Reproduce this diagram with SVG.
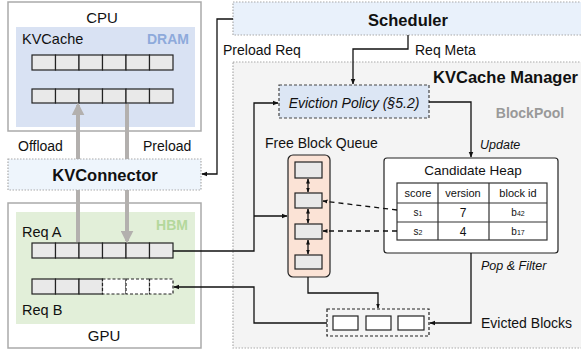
<svg xmlns="http://www.w3.org/2000/svg" width="581" height="353" viewBox="0 0 581 353">
<defs>
<marker id="ah" viewBox="0 0 10 10" refX="9" refY="5" markerWidth="6" markerHeight="6" markerUnits="userSpaceOnUse" orient="auto-start-reverse"><path d="M0,1 L10,5 L0,9 z" fill="#111"/></marker>
<marker id="ahs" viewBox="0 0 10 10" refX="9" refY="5" markerWidth="5" markerHeight="5" markerUnits="userSpaceOnUse" orient="auto-start-reverse"><path d="M0,1 L10,5 L0,9 z" fill="#111"/></marker>
<marker id="ag" viewBox="0 0 10 10" refX="8" refY="5" markerWidth="13" markerHeight="13" markerUnits="userSpaceOnUse" orient="auto"><path d="M0,0 L10,5 L0,10 z" fill="#b3b0ae"/></marker>
</defs>
<style>
text{font-family:"Liberation Sans",Arial,sans-serif;fill:#111}
.outer{fill:#fff;stroke:#aaa;stroke-width:1.5}
.blk{fill:#e9e9e9;stroke:#222;stroke-width:1.2}
.blkd{fill:#fff;stroke:#222;stroke-width:1.2;stroke-dasharray:3,2}
.wblk{fill:#fff;stroke:#222;stroke-width:1.2}
.dot{stroke:#aaa;stroke-width:1.2;stroke-dasharray:1.5,1.5}
.ln{fill:none;stroke:#111;stroke-width:1.3}
.gray{fill:none;stroke:#b3b0ae;stroke-width:4}
.t14{font-size:14px}
.b16{font-size:16.5px;font-weight:bold}
.it{font-style:italic}
.tab{font-size:11px}
</style>
<g id="manager">
<rect x="233" y="62" width="360" height="286" fill="#f4f4f4" class="dot"/>
<text x="578" y="83" class="b16" text-anchor="end">KVCache Manager</text>
<text x="530" y="118" font-size="14" font-weight="bold" text-anchor="middle" style="fill:#999">BlockPool</text>
</g>
<g id="cpu">
<rect x="8" y="2" width="193" height="129" class="outer"/>
<rect x="16" y="27" width="179" height="100" fill="#d9e2f3"/>
<text x="102" y="23" text-anchor="middle" font-size="15">CPU</text>
<text x="22" y="44" font-size="14.5">KVCache</text>
<text x="189" y="44" font-size="14" font-weight="bold" text-anchor="end" style="fill:#8eaadb">DRAM</text>
<rect x="32" y="55" width="23.5" height="15" class="blk"/><rect x="55.5" y="55" width="23.5" height="15" class="blk"/><rect x="79" y="55" width="23.5" height="15" class="blk"/><rect x="102.5" y="55" width="23.5" height="15" class="blk"/><rect x="126" y="55" width="23.5" height="15" class="blk"/><rect x="149.5" y="55" width="23.5" height="15" class="blk"/>
<rect x="32" y="89" width="23.5" height="14" class="blk"/><rect x="55.5" y="89" width="23.5" height="14" class="blk"/><rect x="79" y="89" width="23.5" height="14" class="blk"/><rect x="102.5" y="89" width="23.5" height="14" class="blk"/><rect x="126" y="89" width="23.5" height="14" class="blk"/><rect x="149.5" y="89" width="23.5" height="14" class="blk"/>
</g>
<g id="gpu">
<rect x="8" y="203" width="193" height="145" class="outer"/>
<rect x="16" y="212" width="179" height="112" fill="#e2efd9"/>
<text x="188" y="230" font-size="14" font-weight="bold" text-anchor="end" style="fill:#b4d89c">HBM</text>
<text x="22" y="237" font-size="14.5">Req A</text>
<text x="22" y="315" font-size="14.5">Req B</text>
<text x="104" y="341" text-anchor="middle" font-size="15">GPU</text>
<rect x="32" y="243" width="23.5" height="15" class="blk"/><rect x="55.5" y="243" width="23.5" height="15" class="blk"/><rect x="79" y="243" width="23.5" height="15" class="blk"/><rect x="102.5" y="243" width="23.5" height="15" class="blk"/><rect x="126" y="243" width="23.5" height="15" class="blk"/><rect x="149.5" y="243" width="23.5" height="15" class="blk"/>
<rect x="32" y="279" width="23.5" height="15" class="blk"/><rect x="55.5" y="279" width="23.5" height="15" class="blk"/><rect x="79" y="279" width="23.5" height="15" class="blk"/><rect x="102.5" y="279" width="23.5" height="15" class="blkd"/><rect x="126" y="279" width="23.5" height="15" class="blkd"/><rect x="149.5" y="279" width="23.5" height="15" class="blkd"/>
</g>
<g id="scheduler">
<rect x="233" y="2" width="360" height="33" fill="#e9f1fb" class="dot"/>
<text x="408" y="26" class="b16" text-anchor="middle">Scheduler</text>
</g>
<g id="eviction-policy">
<rect x="279" y="85" width="150" height="33" fill="#dce6f4" stroke="#444" stroke-width="1.2" stroke-dasharray="3,2"/>
<text x="354" y="108" class="t14 it" text-anchor="middle">Eviction Policy (§5.2)</text>
</g>
<g id="free-block-queue">
<text x="265" y="148" class="t14">Free Block Queue</text>
<rect x="288" y="155" width="42" height="122" rx="5" fill="#fbe3d6" stroke="#222" stroke-width="1.2"/>
<rect x="295" y="162" width="27" height="16" class="blk"/>
<rect x="295" y="193" width="27" height="15" class="blk"/>
<rect x="295" y="224" width="27" height="15" class="blk"/>
<rect x="295" y="255" width="27" height="14" class="blk"/>
</g>
<g id="candidate-heap">
<rect x="384" y="158" width="174" height="95" rx="3" fill="#fff" stroke="#222" stroke-width="1.2"/>
<text x="473" y="175" font-size="13.5" text-anchor="middle">Candidate Heap</text>
<rect x="397" y="183" width="150" height="57" fill="#fff" stroke="#333" stroke-width="1.2"/>
<path d="M397,203 H547 M397,222 H547 M438,183 V240 M489,183 V240" stroke="#333" stroke-width="1.2" fill="none"/>
<text x="418" y="197" class="tab" text-anchor="middle">score</text>
<text x="463" y="197" class="tab" text-anchor="middle">version</text>
<text x="518" y="197" class="tab" text-anchor="middle">block id</text>
<text x="418" y="216" font-size="10" text-anchor="middle">s<tspan font-size="7">1</tspan></text>
<text x="463" y="217" font-size="12" text-anchor="middle">7</text>
<text x="518" y="216" font-size="10" text-anchor="middle">b<tspan font-size="7">42</tspan></text>
<text x="418" y="235" font-size="10" text-anchor="middle">s<tspan font-size="7">2</tspan></text>
<text x="463" y="236" font-size="12" text-anchor="middle">4</text>
<text x="518" y="235" font-size="10" text-anchor="middle">b<tspan font-size="7">17</tspan></text>
</g>
<g id="evicted-blocks">
<rect x="327" y="309" width="102" height="27" fill="none" stroke="#222" stroke-width="1.2" stroke-dasharray="3,2"/>
<rect x="333" y="316" width="25" height="14" class="wblk"/>
<rect x="366" y="316" width="25" height="14" class="wblk"/>
<rect x="398" y="316" width="26" height="14" class="wblk"/>
<text x="481" y="328" class="t14">Evicted Blocks</text>
</g>
<g id="connectors">
<path d="M78,242 V105" class="gray" marker-end="url(#ag)"/>
<path d="M127,104 V241" class="gray" marker-end="url(#ag)"/>
<path d="M233,19 H217 V174 H202" class="ln" marker-end="url(#ah)"/>
<path d="M408,35 V49 H353 V84" class="ln" marker-end="url(#ah)"/>
<path d="M173,251 H254 V103 H278" class="ln" marker-end="url(#ah)"/>
<path d="M254,216 H287" class="ln" marker-end="url(#ah)"/>
<path d="M429,102 H471 V157" class="ln" marker-end="url(#ah)"/>
<path d="M471,253 V323 H430" class="ln" marker-end="url(#ah)"/>
<path d="M308,277 V293 H378 V308" class="ln" marker-end="url(#ahs)"/>
<path d="M327,323 H254 V287 H174" class="ln" marker-end="url(#ah)"/>
<path d="M397,210 L323,201" class="ln" stroke-dasharray="5,4" marker-end="url(#ahs)"/>
<path d="M397,231 L323,231" class="ln" stroke-dasharray="5,4" marker-end="url(#ahs)"/>
<path d="M308,179 V192" class="ln" stroke-width="1" marker-start="url(#ahs)" marker-end="url(#ahs)"/>
<path d="M308,209 V223" class="ln" stroke-width="1" marker-start="url(#ahs)" marker-end="url(#ahs)"/>
<path d="M308,240 V254" class="ln" stroke-width="1" marker-start="url(#ahs)" marker-end="url(#ahs)"/>
</g>
<g id="kvconnector">
<rect x="8" y="159" width="193" height="31" fill="#eef5fc" class="dot"/>
<text x="105" y="181" class="b16" text-anchor="middle">KVConnector</text>
</g>
<g id="labels">
<text x="18" y="151" class="t14">Offload</text>
<text x="143" y="151" class="t14">Preload</text>
<text x="223" y="55" class="t14">Preload Req</text>
<text x="415" y="55" class="t14">Req Meta</text>
<text x="480" y="149" font-size="12.5" class="it">Update</text>
<text x="481" y="270" font-size="12.5" class="it">Pop &amp; Filter</text>
</g>
</svg>
